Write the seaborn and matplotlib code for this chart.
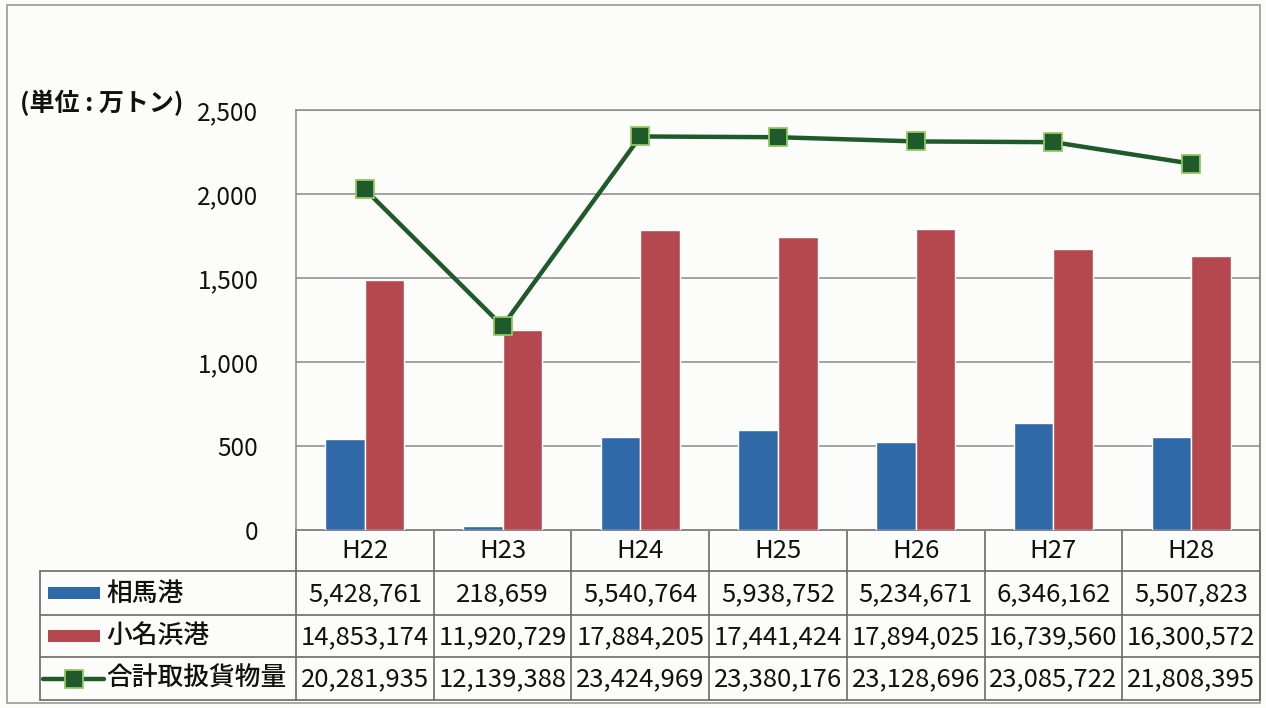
import numpy as np
import pandas as pd
import matplotlib
matplotlib.use("Agg")
import matplotlib.pyplot as plt
import seaborn as sns
from matplotlib.patches import Rectangle
from matplotlib.lines import Line2D
from matplotlib.ticker import FuncFormatter

# --- data (tons, as printed in the table) ---
years = ["H22", "H23", "H24", "H25", "H26", "H27", "H28"]
soma = [5428761, 218659, 5540764, 5938752, 5234671, 6346162, 5507823]
onahama = [14853174, 11920729, 17884205, 17441424, 17894025, 16739560, 16300572]
total = [20281935, 12139388, 23424969, 23380176, 23128696, 23085722, 21808395]
series_names = ["相馬港", "小名浜港", "合計取扱貨物量"]
unit_label = "(単位 : 万トン)"

BLUE = "#2f69a8"
RED = "#b5474f"
GREEN = "#1f5a2a"
MARKER_EDGE = "#93c763"
GRID = "#8a8a8a"
BG = "#fcfcfa"

sns.set_theme(style="white")
plt.rcParams["font.family"] = ["Noto Sans CJK JP", "DejaVu Sans"]

W, H = 1266, 708
fig = plt.figure(figsize=(W / 100, H / 100), dpi=100)
fig.patch.set_facecolor(BG)

# pixel layout
PL, PR, PT, PB = 296, 1260, 110, 530
ax = fig.add_axes([PL / W, 1 - PB / H, (PR - PL) / W, (PB - PT) / H])
ax.set_facecolor("none")

# bars (in 万トン)
bars = pd.DataFrame({
    "year": years * 2,
    "port": [series_names[0]] * len(years) + [series_names[1]] * len(years),
    "value": [v / 10000 for v in soma] + [v / 10000 for v in onahama],
})
sns.barplot(data=bars, x="year", y="value", hue="port", palette=[BLUE, RED],
            width=0.575, saturation=1, legend=False, ax=ax, zorder=3)

# total line
line_df = pd.DataFrame({"year": years, "value": [v / 10000 for v in total]})
sns.pointplot(data=line_df, x="year", y="value", color=GREEN, markers="s",
              linestyles="-", ax=ax, zorder=5)
for ln in ax.lines:
    ln.set_linewidth(3.2)
    ln.set_markersize(12.5)
    ln.set_markerfacecolor(GREEN)
    ln.set_markeredgecolor(MARKER_EDGE)
    ln.set_markeredgewidth(1.3)
    ln.set_zorder(5)

ax.set_xlim(-0.5, len(years) - 0.5)
ax.set_ylim(0, 2500)
ax.set_yticks(np.arange(0, 2501, 500))
ax.yaxis.set_major_formatter(FuncFormatter(lambda v, p: f"{int(v):,}"))
ax.tick_params(axis="y", length=0, pad=27, labelsize=17.5, labelcolor="#111111")
ax.set_xticks([])
ax.set_xlabel("")
ax.set_ylabel("")
ax.yaxis.grid(True, color=GRID, linewidth=1.1, zorder=0)
ax.set_axisbelow(True)
for s in ax.spines.values():
    s.set_color(GRID)
    s.set_linewidth(1.1)

# --- data table under the plot, drawn on an overlay in pixel coords ---
ov = fig.add_axes([0, 0, 1, 1], zorder=-1)
ov.set_xlim(0, W)
ov.set_ylim(H, 0)
ov.axis("off")
ov.set_facecolor("none")

TL = 40
col_w = (PR - PL) / len(years)
col_edges = [PL + i * col_w for i in range(len(years) + 1)]
row_edges = [PB, 571, 615, 657, 700]
LC = "#6a6a6a"

# outer frame
ov.add_patch(Rectangle((7, 5), 1253, 698, fill=False, edgecolor="#9a9a9a", linewidth=1.2))

# horizontal lines
ov.plot([PL, PR], [row_edges[0]] * 2, color=LC, lw=1.2)
for y in row_edges[1:]:
    ov.plot([TL, PR], [y, y], color=LC, lw=1.2)
# vertical lines
for x in col_edges:
    ov.plot([x, x], [row_edges[0], row_edges[-1]], color=LC, lw=1.2)
ov.plot([TL, TL], [row_edges[1], row_edges[-1]], color=LC, lw=1.2)

# header
for i, yr in enumerate(years):
    ov.text((col_edges[i] + col_edges[i + 1]) / 2, (row_edges[0] + row_edges[1]) / 2 + 1,
            yr, ha="center", va="center", fontsize=18.5, color="#111111")

# rows
rows = [soma, onahama, total]
for r, vals in enumerate(rows):
    yc = (row_edges[r + 1] + row_edges[r + 2]) / 2
    for i, v in enumerate(vals):
        ov.text((col_edges[i] + col_edges[i + 1]) / 2, yc + 1, f"{v:,}",
                ha="center", va="center", fontsize=18.5, color="#111111")
    ov.text(106, yc, series_names[r], ha="left", va="center", fontsize=18.5,
            fontweight="medium", color="#111111")

# legend keys
y0 = (row_edges[1] + row_edges[2]) / 2
ov.add_patch(Rectangle((48, y0 - 6), 52, 12, facecolor=BLUE, edgecolor="none"))
y1 = (row_edges[2] + row_edges[3]) / 2
ov.add_patch(Rectangle((48, y1 - 6), 52, 12, facecolor=RED, edgecolor="none"))
y2 = (row_edges[3] + row_edges[4]) / 2
ov.add_line(Line2D([43, 104], [y2, y2], color=GREEN, lw=3.2))
ov.add_line(Line2D([73.5], [y2], marker="s", markersize=12.5, markerfacecolor=GREEN,
                   markeredgecolor=MARKER_EDGE, markeredgewidth=1.3, linestyle="none"))

# unit label
fig.text(20 / W, 1 - 103 / H, unit_label, ha="left", va="center",
         fontsize=18, fontweight="bold", color="#111111")

fig.savefig("out.png", dpi=100, facecolor=fig.get_facecolor())
